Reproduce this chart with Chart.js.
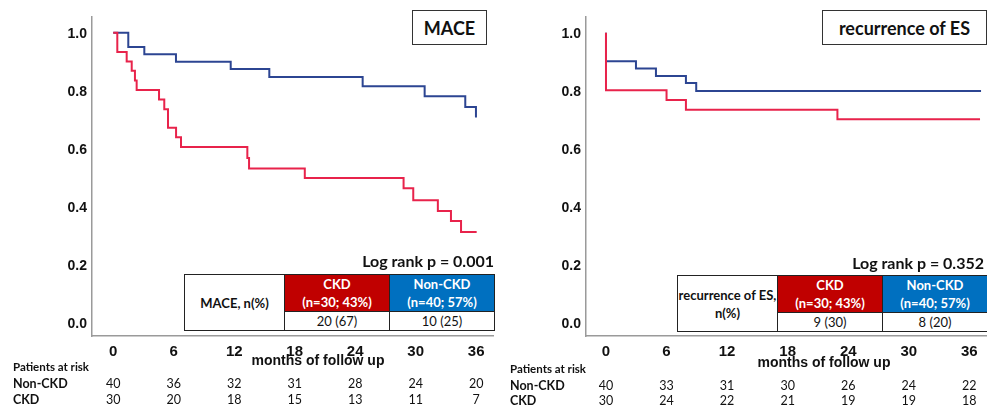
<!DOCTYPE html>
<html><head><meta charset="utf-8">
<script src="https://cdn.jsdelivr.net/npm/chart.js@4.4.1/dist/chart.umd.min.js"></script>
<style>
html,body{margin:0;padding:0;background:#fff;}
#wrap{position:relative;width:987px;height:408px;overflow:hidden;background:#fff;}
canvas{position:absolute;top:0;}
.titlebox{position:absolute;border:1.5px solid #333;box-sizing:border-box;font:bold 18px Lato,sans-serif;display:flex;align-items:center;justify-content:center;color:#111;background:#fff;}
.pval{position:absolute;font:bold 16px Lato,sans-serif;color:#111;text-align:right;line-height:20px;white-space:nowrap;}
.xtitle{position:absolute;font:bold 14px "Liberation Sans",Arial,sans-serif;color:#111;line-height:16px;white-space:nowrap;text-align:center;}
table.inset{position:absolute;border-collapse:collapse;table-layout:fixed;background:#fff;}
table.inset td{border:1.5px solid #222;padding:0;text-align:center;vertical-align:middle;font:13px Lato,sans-serif;color:#111;line-height:18px;white-space:nowrap;overflow:hidden;}
table.inset td.lab{font-weight:bold;}
table.inset td.hd{font-weight:bold;color:#fff;}
</style></head>
<body>
<div id="wrap">
  <canvas id="c1" width="494" height="408" style="left:0"></canvas>
  <canvas id="c2" width="493" height="408" style="left:494px"></canvas>
  <div id="overlay"></div>
</div>
<script>
// ---------- data ----------
const tickMonths = [0, 6, 12, 18, 24, 30, 36];
const yTicks = [0, 0.2, 0.4, 0.6, 0.8, 1.0];

// MACE Kaplan-Meier curves (months, survival)
const maceCkdTime = [0, 0.4, 1.33, 1.83, 2.15, 2.32, 4.54, 5.06, 5.43, 6.23, 6.72, 13.3, 13.47, 19.0, 28.8, 29.76, 32.2, 33.5, 34.5, 36.05];
const maceCkdSurv = [1.0, 0.933, 0.900, 0.868, 0.835, 0.802, 0.769, 0.735, 0.671, 0.639, 0.605, 0.567, 0.531, 0.498, 0.462, 0.421, 0.384, 0.349, 0.311, 0.311];
const maceNonCkdTime = [0, 1.49, 3.08, 6.22, 11.65, 15.48, 24.74, 30.89, 34.92, 35.98];
const maceNonCkdSurv = [1.0, 0.950, 0.925, 0.899, 0.874, 0.847, 0.815, 0.780, 0.743, 0.707];

// Recurrence of ES curves
const esCkdTime = [0, 0, 6.0, 7.92, 22.93, 37.06];
const esCkdSurv = [1.0, 0.801, 0.767, 0.734, 0.701, 0.701];
const esNonCkdTime = [0, 0, 2.97, 4.95, 7.92, 8.94, 37.16];
const esNonCkdSurv = [1.0, 0.901, 0.876, 0.850, 0.826, 0.798, 0.798];

// Patients at risk
const maceRiskNonCkd = [40, 36, 32, 31, 28, 24, 20];
const maceRiskCkd = [30, 20, 18, 15, 13, 11, 7];
const esRiskNonCkd = [40, 33, 31, 30, 26, 24, 22];
const esRiskCkd = [30, 24, 22, 21, 19, 19, 18];

// Inset tables
const groupNames = ['CKD', 'Non-CKD'];
const groupSizes = ['(n=30; 43%)', '(n=40; 57%)'];
const maceEvents = ['20 (67)', '10 (25)'];
const esEvents = ['9 (30)', '8 (20)'];
const pValues = ['0.001', '0.352'];

// ---------- styles ----------
const RED = '#e8234b';
const BLUE = '#2c4592';
const AXIS = '#9a9a9a';

const riskPlugin = {
  id: 'riskTable',
  afterDraw(chart, args, opts) {
    const ctx = chart.ctx;
    const xs = chart.scales.x;
    ctx.save();
    ctx.fillStyle = '#111';
    ctx.textBaseline = 'middle';
    ctx.textAlign = 'left';
    ctx.font = 'bold 11.5px Lato, sans-serif';
    ctx.fillText('Patients at risk', opts.labelX, opts.rowY[0]);
    ctx.font = 'bold 12.5px Lato, sans-serif';
    ctx.fillText('Non-CKD', opts.labelX, opts.rowY[1]);
    ctx.fillText('CKD', opts.labelX, opts.rowY[2]);
    ctx.font = '12.5px Lato, sans-serif';
    ctx.textAlign = 'center';
    tickMonths.forEach((m, i) => {
      const px = xs.getPixelForValue(m);
      ctx.fillText(String(opts.nonCkd[i]), px, opts.rowY[1]);
      ctx.fillText(String(opts.ckd[i]), px, opts.rowY[2]);
    });
    ctx.restore();
  }
};

function pts(t, s) { return t.map((v, i) => ({ x: v, y: s[i] })); }

function makeChart(id, c) {
  return new Chart(document.getElementById(id), {
    type: 'line',
    data: {
      datasets: [
        { label: 'CKD', data: pts(c.ckdT, c.ckdS), borderColor: RED, borderWidth: 2, pointRadius: 0, stepped: 'before', fill: false },
        { label: 'Non-CKD', data: pts(c.nonT, c.nonS), borderColor: BLUE, borderWidth: 2, pointRadius: 0, stepped: 'before', fill: false }
      ]
    },
    options: {
      responsive: false, animation: false, devicePixelRatio: 1,
      layout: { padding: { top: 17, left: 0, right: 0, bottom: 0 } },
      plugins: {
        legend: { display: false }, tooltip: { enabled: false },
        riskTable: { labelX: c.labelX, rowY: c.rowY, nonCkd: c.riskNon, ckd: c.riskCkd }
      },
      scales: {
        x: {
          type: 'linear', min: c.xmin, max: c.xmax,
          grid: { display: false, drawTicks: false },
          border: { display: true, color: AXIS, width: 1.5 },
          ticks: { font: { family: '"Liberation Sans", Arial, sans-serif', size: 15, weight: 'bold' }, color: '#111', padding: 7, autoSkip: false, maxRotation: 0, callback: v => String(v) },
          afterBuildTicks: s => { s.ticks = tickMonths.map(v => ({ value: v })); },
          afterFit: s => { s.height = 72; }
        },
        y: {
          type: 'linear', min: -0.048, max: 1.054,
          grid: { display: false, drawTicks: false },
          border: { display: true, color: AXIS, width: 1.5 },
          ticks: { font: { family: '"Liberation Sans", Arial, sans-serif', size: 14, weight: 'bold' }, color: '#111', padding: 5, labelOffset: 2, callback: v => Number(v).toFixed(1) },
          afterBuildTicks: s => { s.ticks = yTicks.map(v => ({ value: v })); },
          afterFit: s => { s.width = 92; }
        }
      }
    },
    plugins: [riskPlugin]
  });
}

makeChart('c1', {
  ckdT: maceCkdTime, ckdS: maceCkdSurv, nonT: maceNonCkdTime, nonS: maceNonCkdSurv,
  xmin: -2.11, xmax: 37.77, labelX: 13, rowY: [367, 384, 400],
  riskNon: maceRiskNonCkd, riskCkd: maceRiskCkd
});
makeChart('c2', {
  ckdT: esCkdTime, ckdS: esCkdSurv, nonT: esNonCkdTime, nonS: esNonCkdSurv,
  xmin: -1.98, xmax: 37.75, labelX: 16, rowY: [369, 386, 401],
  riskNon: esRiskNonCkd, riskCkd: esRiskCkd
});

// ---------- overlays ----------
const ov = document.getElementById('overlay');
function add(html) { ov.insertAdjacentHTML('beforeend', html); }
function insetTable(left, top, label, events) {
  return `<table class="inset" style="left:${left}px;top:${top}px;width:310px;">
    <colgroup><col style="width:100px"><col style="width:105px"><col style="width:105px"></colgroup>
    <tr style="height:37px"><td rowspan="2" class="lab">${label}</td>
      <td class="hd" style="background:#c00000">${groupNames[0]}<br>${groupSizes[0]}</td>
      <td class="hd" style="background:#0070c0">${groupNames[1]}<br>${groupSizes[1]}</td></tr>
    <tr style="height:19px"><td>${events[0]}</td><td>${events[1]}</td></tr>
  </table>`;
}
add(`<div class="titlebox" style="left:412px;top:10px;width:75px;height:35px;">MACE</div>`);
add(`<div class="titlebox" style="left:822px;top:10px;width:165px;height:35px;">recurrence of ES</div>`);
add(`<div class="pval" style="left:294px;top:251px;width:200px;">Log rank p = ${pValues[0]}</div>`);
add(`<div class="pval" style="left:784px;top:253px;width:200px;">Log rank p = ${pValues[1]}</div>`);
add(insetTable(184, 274, 'MACE, n(%)', maceEvents));
add(insetTable(677, 275, 'recurrence of ES,<br>n(%)', esEvents));
add(`<div class="xtitle" style="left:218px;top:352px;width:200px;">months of follow up</div>`);
add(`<div class="xtitle" style="left:724px;top:354px;width:200px;">months of follow up</div>`);
</script>
</body></html>
